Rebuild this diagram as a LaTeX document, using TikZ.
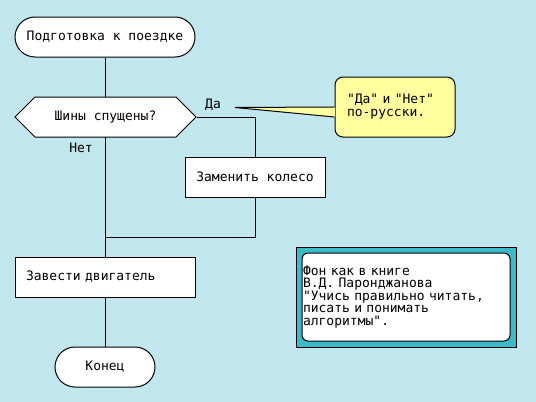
\documentclass[tikz,border=0pt]{standalone}
\usepackage{fontspec}
\newfontfamily\pix{DejaVu Sans Mono}
\usetikzlibrary{calc}
\definecolor{bg}{RGB}{193,230,238}
\definecolor{notey}{RGB}{255,255,160}
\definecolor{tealb}{RGB}{60,186,200}
\begin{document}
\begin{tikzpicture}[x=1pt,y=-1pt,line width=1pt,
  every node/.style={font=\pix\fontsize{13}{13}\selectfont},
  term/.style={draw,fill=white,rounded corners=20pt,minimum height=40pt,inner sep=0pt},
  pbox/.style={draw,fill=white,minimum height=40pt,inner sep=0pt},
  lbl/.style={inner sep=0pt}]
\fill[bg] (0,0) rectangle (536,402);
\useasboundingbox (0,0) rectangle (536,402);
% start
\node[term,minimum width=180pt] (start) at (105,37) {Подготовка к поездке};
% decision hexagon
\draw[fill=white] (15,117) -- (35,97) -- (176,97) -- (196,117) -- (176,137) -- (35,137) -- cycle;
\node[minimum width=181pt,minimum height=40pt,inner sep=0pt] (q) at (105.5,117) {Шины спущены?};
\node[pbox,minimum width=140pt] (wheel) at (255,177) {Заменить колесо};
\node[pbox,minimum width=180pt,text width=158pt,inner xsep=11pt,align=left] (eng) at (105,277) {Завести двигатель};
\node[term,minimum width=100pt] (end) at (105,367) {Конец};
\coordinate (j) at (105,237);
% connectors
\draw (start.south) -- (105,97);
\draw (q.east) -| (wheel.north);
\draw (wheel.south) |- (j);
\draw (105,137) -- (eng.north);
\draw (eng.south) -- (end.north);
% labels
\node[lbl] (da) at (213,105) {Да};
\node[lbl] (net) at (81,148) {Нет};
% callout
\node[draw,fill=notey,rounded corners=8pt,minimum width=120pt,minimum height=60pt,
  inner xsep=12pt,inner ysep=0pt,text width=96pt,align=left] (cb) at (395,107) {"Да" и "Нет"\\по-русски.};
\coordinate (tip) at (235,107.5);
\fill[notey] (tip) -- ($(cb.west)+(0.7,0)$) -- ($(cb.west)+(0.7,10)$) -- cycle;
\draw (tip) -- (cb.west);
\draw (tip) -- ($(cb.west)+(0,10)$);
% teal note
\node[draw,fill=tealb,minimum width=220pt,minimum height=100pt] (tb) at (406,297) {};
\node[draw,fill=white,rounded corners=6pt,minimum width=208pt,minimum height=88pt,
  inner xsep=1pt,inner ysep=0pt,text width=206pt,align=left,
  font=\pix\fontsize{13}{12.5}\selectfont] (fon) at (406,297)
  {Фон как в книге\\В.Д. Паронджанова\\"Учись правильно читать,\\писать и понимать\\алгоритмы".};
\end{tikzpicture}
\end{document}
